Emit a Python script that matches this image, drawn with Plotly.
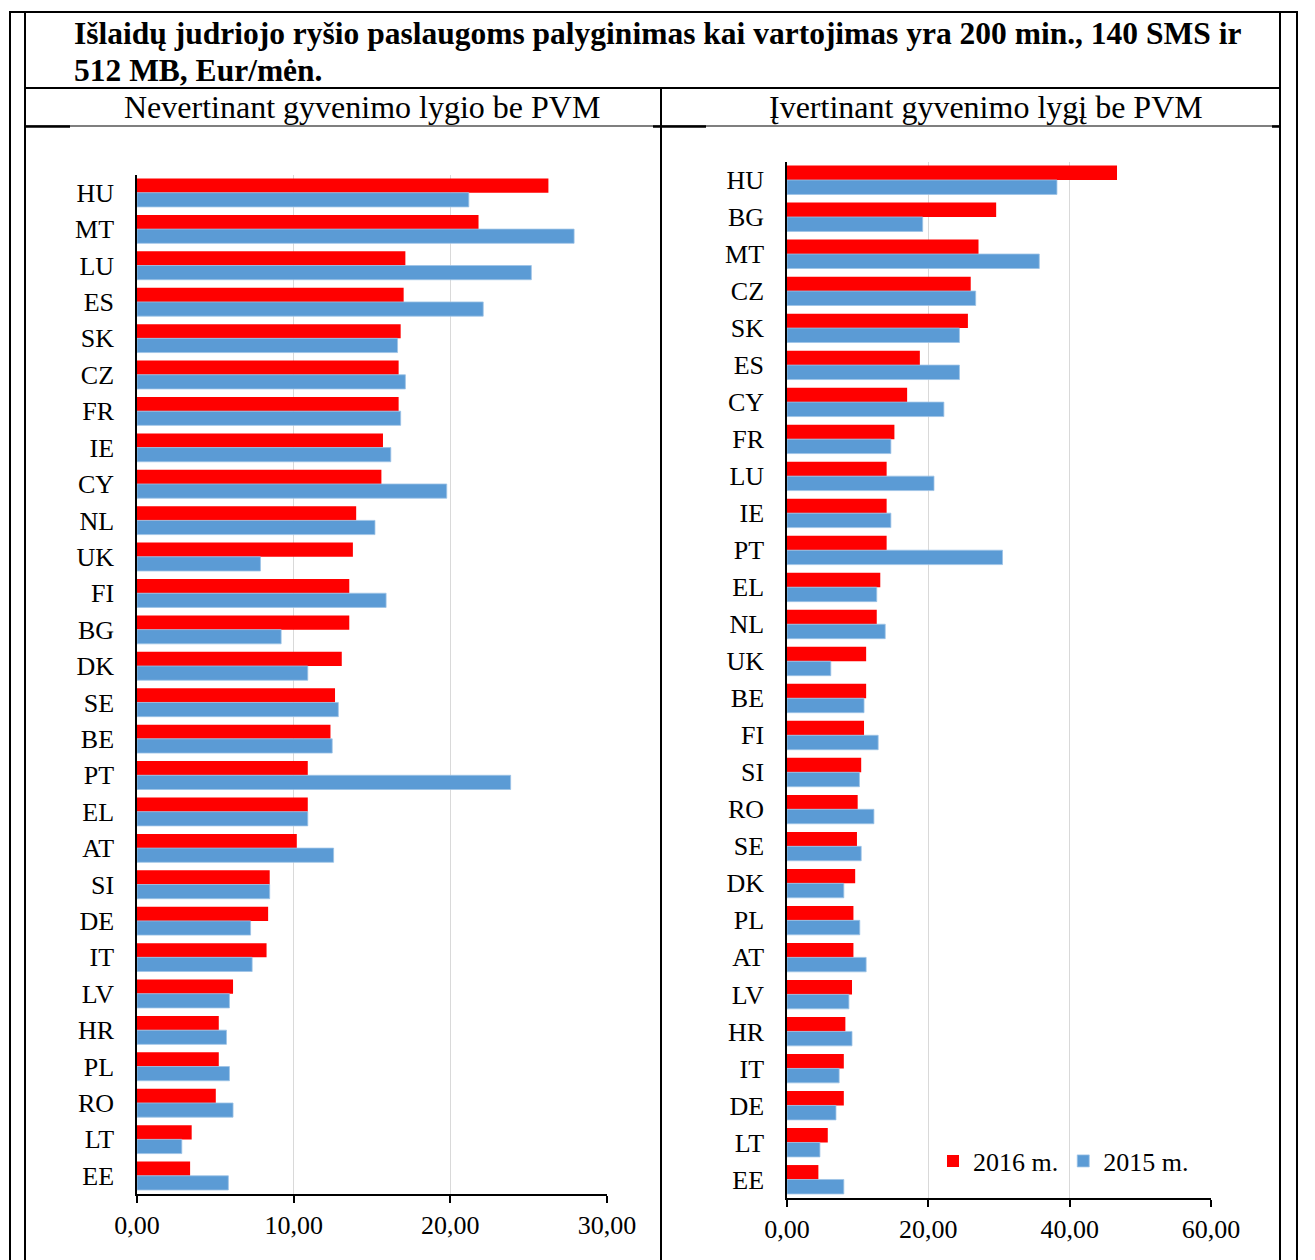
import plotly.graph_objects as go

W, H = 1315, 1260

categories_left = ["HU", "MT", "LU", "ES", "SK", "CZ", "FR", "IE", "CY", "NL", "UK", "FI", "BG", "DK",
                   "SE", "BE", "PT", "EL", "AT", "SI", "DE", "IT", "LV", "HR", "PL", "RO", "LT", "EE"]
v2016_left = [26.26, 21.80, 17.13, 17.02, 16.83, 16.70, 16.70, 15.70, 15.60, 13.99, 13.78, 13.55, 13.55, 13.07,
              12.64, 12.35, 10.90, 10.90, 10.20, 8.47, 8.37, 8.27, 6.13, 5.22, 5.22, 5.03, 3.49, 3.39]
v2015_left = [21.18, 27.90, 25.17, 22.10, 16.63, 17.13, 16.83, 16.20, 19.77, 15.19, 7.88, 15.90, 9.20, 10.90,
              12.85, 12.46, 23.85, 10.90, 12.55, 8.47, 7.25, 7.35, 5.90, 5.71, 5.90, 6.13, 2.86, 5.83]

categories_right = ["HU", "BG", "MT", "CZ", "SK", "ES", "CY", "FR", "LU", "IE", "PT", "EL", "NL", "UK",
                    "BE", "FI", "SI", "RO", "SE", "DK", "PL", "AT", "LV", "HR", "IT", "DE", "LT", "EE"]
v2016_right = [46.7, 29.6, 27.1, 26.0, 25.6, 18.8, 17.0, 15.2, 14.1, 14.1, 14.1, 13.2, 12.7, 11.2,
               11.2, 10.9, 10.5, 10.0, 9.9, 9.65, 9.4, 9.4, 9.2, 8.26, 8.04, 8.04, 5.77, 4.44]
v2015_right = [38.2, 19.2, 35.7, 26.7, 24.4, 24.4, 22.2, 14.7, 20.8, 14.7, 30.5, 12.7, 13.9, 6.2,
               10.9, 12.9, 10.25, 12.3, 10.5, 8.04, 10.3, 11.2, 8.76, 9.2, 7.38, 6.93, 4.66, 8.04]

x_ticks_left = [0, 10, 20, 30]
x_ticks_right = [0, 20, 40, 60]

title_line1 = "Išlaidų judriojo ryšio paslaugoms palyginimas kai vartojimas yra 200 min., 140 SMS ir"
title_line2 = "512 MB, Eur/mėn."
sub_left = "Nevertinant gyvenimo lygio be PVM"
sub_right = "Įvertinant gyvenimo lygį be PVM"
series_names = ["2016 m.", "2015 m."]

RED = "#FF0000"
BLUE = "#5B9BD5"
FONT = "Liberation Serif"


def px(x):
    return x / W


def py(y):
    return 1 - y / H


fig = go.Figure()

fig.add_trace(go.Bar(y=categories_left, x=v2016_left, orientation="h", name=series_names[0],
                     marker=dict(color=RED, line=dict(width=0)), xaxis="x", yaxis="y", showlegend=False))
fig.add_trace(go.Bar(y=categories_left, x=v2015_left, orientation="h", name=series_names[1],
                     marker=dict(color=BLUE, line=dict(width=0.8, color="#9DC3E6")), xaxis="x", yaxis="y",
                     showlegend=False))
fig.add_trace(go.Bar(y=categories_right, x=v2016_right, orientation="h", name=series_names[0],
                     marker=dict(color=RED, line=dict(width=0)), xaxis="x2", yaxis="y2"))
fig.add_trace(go.Bar(y=categories_right, x=v2015_right, orientation="h", name=series_names[1],
                     marker=dict(color=BLUE, line=dict(width=0.8, color="#9DC3E6")), xaxis="x2", yaxis="y2"))

xcommon = dict(showgrid=True, gridcolor="#d9d9d9", gridwidth=1, zeroline=False, automargin=False,
               showline=True, linecolor="black", linewidth=1.5, ticks="outside", ticklen=7,
               tickcolor="black", tickwidth=1.5, tickformat=".2f",
               tickfont=dict(family=FONT, size=26, color="black"), fixedrange=True)
ycommon = dict(showgrid=False, zeroline=False, showline=True, linecolor="black", linewidth=1.5,
               ticks="", autorange="reversed", type="category", ticklabelstandoff=16, automargin=False,
               tickfont=dict(family=FONT, size=26, color="black"), fixedrange=True)

fig.update_layout(
    width=W, height=H,
    autosize=False,
    margin=dict(l=0, r=0, t=0, b=0, pad=0, autoexpand=False),
    paper_bgcolor="white", plot_bgcolor="white",
    separators=", ",
    barmode="group", bargap=0.22, bargroupgap=0.0,
    xaxis=dict(domain=[px(137), px(607)], range=[0, 30], tickvals=x_ticks_left, anchor="y", **xcommon),
    yaxis=dict(domain=[py(1194), py(174.5)], anchor="x", **ycommon),
    xaxis2=dict(domain=[px(787), px(1211)], range=[0, 60], tickvals=x_ticks_right, anchor="y2", **xcommon),
    yaxis2=dict(domain=[py(1198), py(161.5)], anchor="x2", **ycommon),
    legend=dict(orientation="h", x=px(933), y=py(1161), xanchor="left", yanchor="middle",
                font=dict(family=FONT, size=26, color="black"), bgcolor="rgba(0,0,0,0)",
                traceorder="normal", itemwidth=30),
    showlegend=True,
)

anns = [
    dict(text="<b>" + title_line1 + "</b>", x=px(72), y=py(33), xanchor="left", yanchor="middle",
         font=dict(family=FONT, size=31.5, color="black")),
    dict(text="<b>" + title_line2 + "</b>", x=px(72), y=py(70), xanchor="left", yanchor="middle",
         font=dict(family=FONT, size=31.5, color="black")),
    dict(text=sub_left, x=px(362), y=py(107), xanchor="center", yanchor="middle",
         font=dict(family=FONT, size=32, color="black")),
    dict(text=sub_right, x=px(986), y=py(107), xanchor="center", yanchor="middle",
         font=dict(family=FONT, size=32, color="black")),
]
for a in anns:
    a.update(xref="paper", yref="paper", showarrow=False)
fig.update_layout(annotations=anns)


def line(x0, y0, x1, y1, w=2):
    return dict(type="line", xref="paper", yref="paper", x0=px(x0), y0=py(y0), x1=px(x1), y1=py(y1),
                line=dict(color="black", width=w), layer="above")


shapes = [
    line(10, 11, 10, 1260),
    line(25, 11, 25, 1260),
    line(1280, 11, 1280, 1260),
    line(1297, 11, 1297, 1260),
    line(9, 12, 1298, 12),
    line(25, 88, 1280, 88),
    line(25, 126, 1280, 126, 1.2),
    line(25, 126.5, 70, 126.5, 2.5),
    line(653, 126.5, 706, 126.5, 2.5),
    line(1272, 126.5, 1280, 126.5, 2.5),
    line(661, 88, 661, 1260),
]
fig.update_layout(shapes=shapes)

fig.write_html("out.html", config={"displayModeBar": False},
               post_script="document.body.style.margin='0px';")
